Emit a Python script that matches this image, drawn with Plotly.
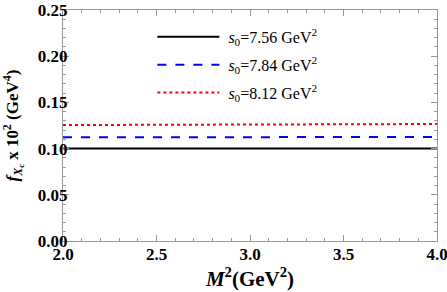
import plotly.graph_objects as go

m2 = [2.0, 2.5, 3.0, 3.5, 4.0]
f_756 = [0.1000, 0.1000, 0.1000, 0.1001, 0.1001]
f_784 = [0.1122, 0.1123, 0.1124, 0.1125, 0.1126]
f_812 = [0.1255, 0.1259, 0.1262, 0.1264, 0.1266]
names = ["&nbsp;<i>s</i><sub>0</sub>=7.56 GeV<sup>2</sup>",
         "&nbsp;<i>s</i><sub>0</sub>=7.84 GeV<sup>2</sup>",
         "&nbsp;<i>s</i><sub>0</sub>=8.12 GeV<sup>2</sup>"]
y_ticks = [0, 0.05, 0.10, 0.15, 0.20, 0.25]
y_ticktext = ["0.00", "0.05", "0.10", "0.15", "0.20", "0.25"]
x_ticks = [2.0, 2.5, 3.0, 3.5, 4.0]
x_ticktext = ["2.0", "2.5", "3.0", "3.5", "4.0"]
series = [f_756, f_784, f_812]
colors = ["#000000", "#0000FF", "#FF0000"]
dashes = ["solid", "dash", "dot"]
yrefs = ["y2", "y", "y"]

fig = go.Figure()
for i, (y, n, c, d, yr) in enumerate(zip(series, names, colors, dashes, yrefs)):
    fig.add_trace(go.Scatter(x=m2, y=y, mode="lines", name=n, legendgroup=str(i),
                             yaxis=yr, line=dict(color=c, width=2, dash=d)))

font_t = "Liberation Serif, Times New Roman, serif"
tickfont = dict(family=font_t, size=17, color="black", weight="bold")
axis_common = dict(showline=True, linecolor="#999999", linewidth=1, mirror="ticks",
                   ticks="inside", tickcolor="#999999", ticklen=6, showgrid=False,
                   zeroline=False, automargin=False, ticklabeloverflow="allow",
                   tickfont=tickfont)
fig.update_layout(
    width=447, height=292,
    margin=dict(l=63, r=10, t=10, b=51),
    plot_bgcolor="white", paper_bgcolor="white",
    showlegend=True,
    legend=dict(x=0.239, y=0.957, xanchor="left", yanchor="top",
                bgcolor="rgba(0,0,0,0)", tracegroupgap=4, itemwidth=62,
                font=dict(family=font_t, size=16, color="black")),
    xaxis=dict(range=[2.0, 4.0], tickvals=x_ticks, ticktext=x_ticktext,
               ticklabelstandoff=-2,
               minor=dict(ticks="inside", dtick=0.1, ticklen=3, tickcolor="#999999"),
               title=dict(text="<i>M</i><sup>2</sup>(GeV<sup>2</sup>)", standoff=2,
                          font=dict(family=font_t, size=21, color="black", weight="bold")),
               **axis_common),
    yaxis=dict(range=[0, 0.25], tickvals=y_ticks, ticktext=y_ticktext,
               showticklabels=False,
               minor=dict(ticks="inside", dtick=0.01, ticklen=3, tickcolor="#999999"),
               **axis_common),
    yaxis2=dict(range=[0, 0.25], tickvals=y_ticks, ticktext=y_ticktext,
                overlaying="y", anchor="free", position=0.012, side="left",
                showline=False, ticks="", showgrid=False, zeroline=False,
                automargin=False, tickfont=tickfont,
                title=dict(text="<i>f</i><sub><i>X</i><sub>c</sub></sub> x 10<sup>2</sup> (GeV<sup>4</sup>)",
                           standoff=14,
                           font=dict(family=font_t, size=17, color="black", weight="bold"))),
)
fig.write_html("out.html", config={"displayModeBar": False},
               post_script="document.body.style.margin='0';")
